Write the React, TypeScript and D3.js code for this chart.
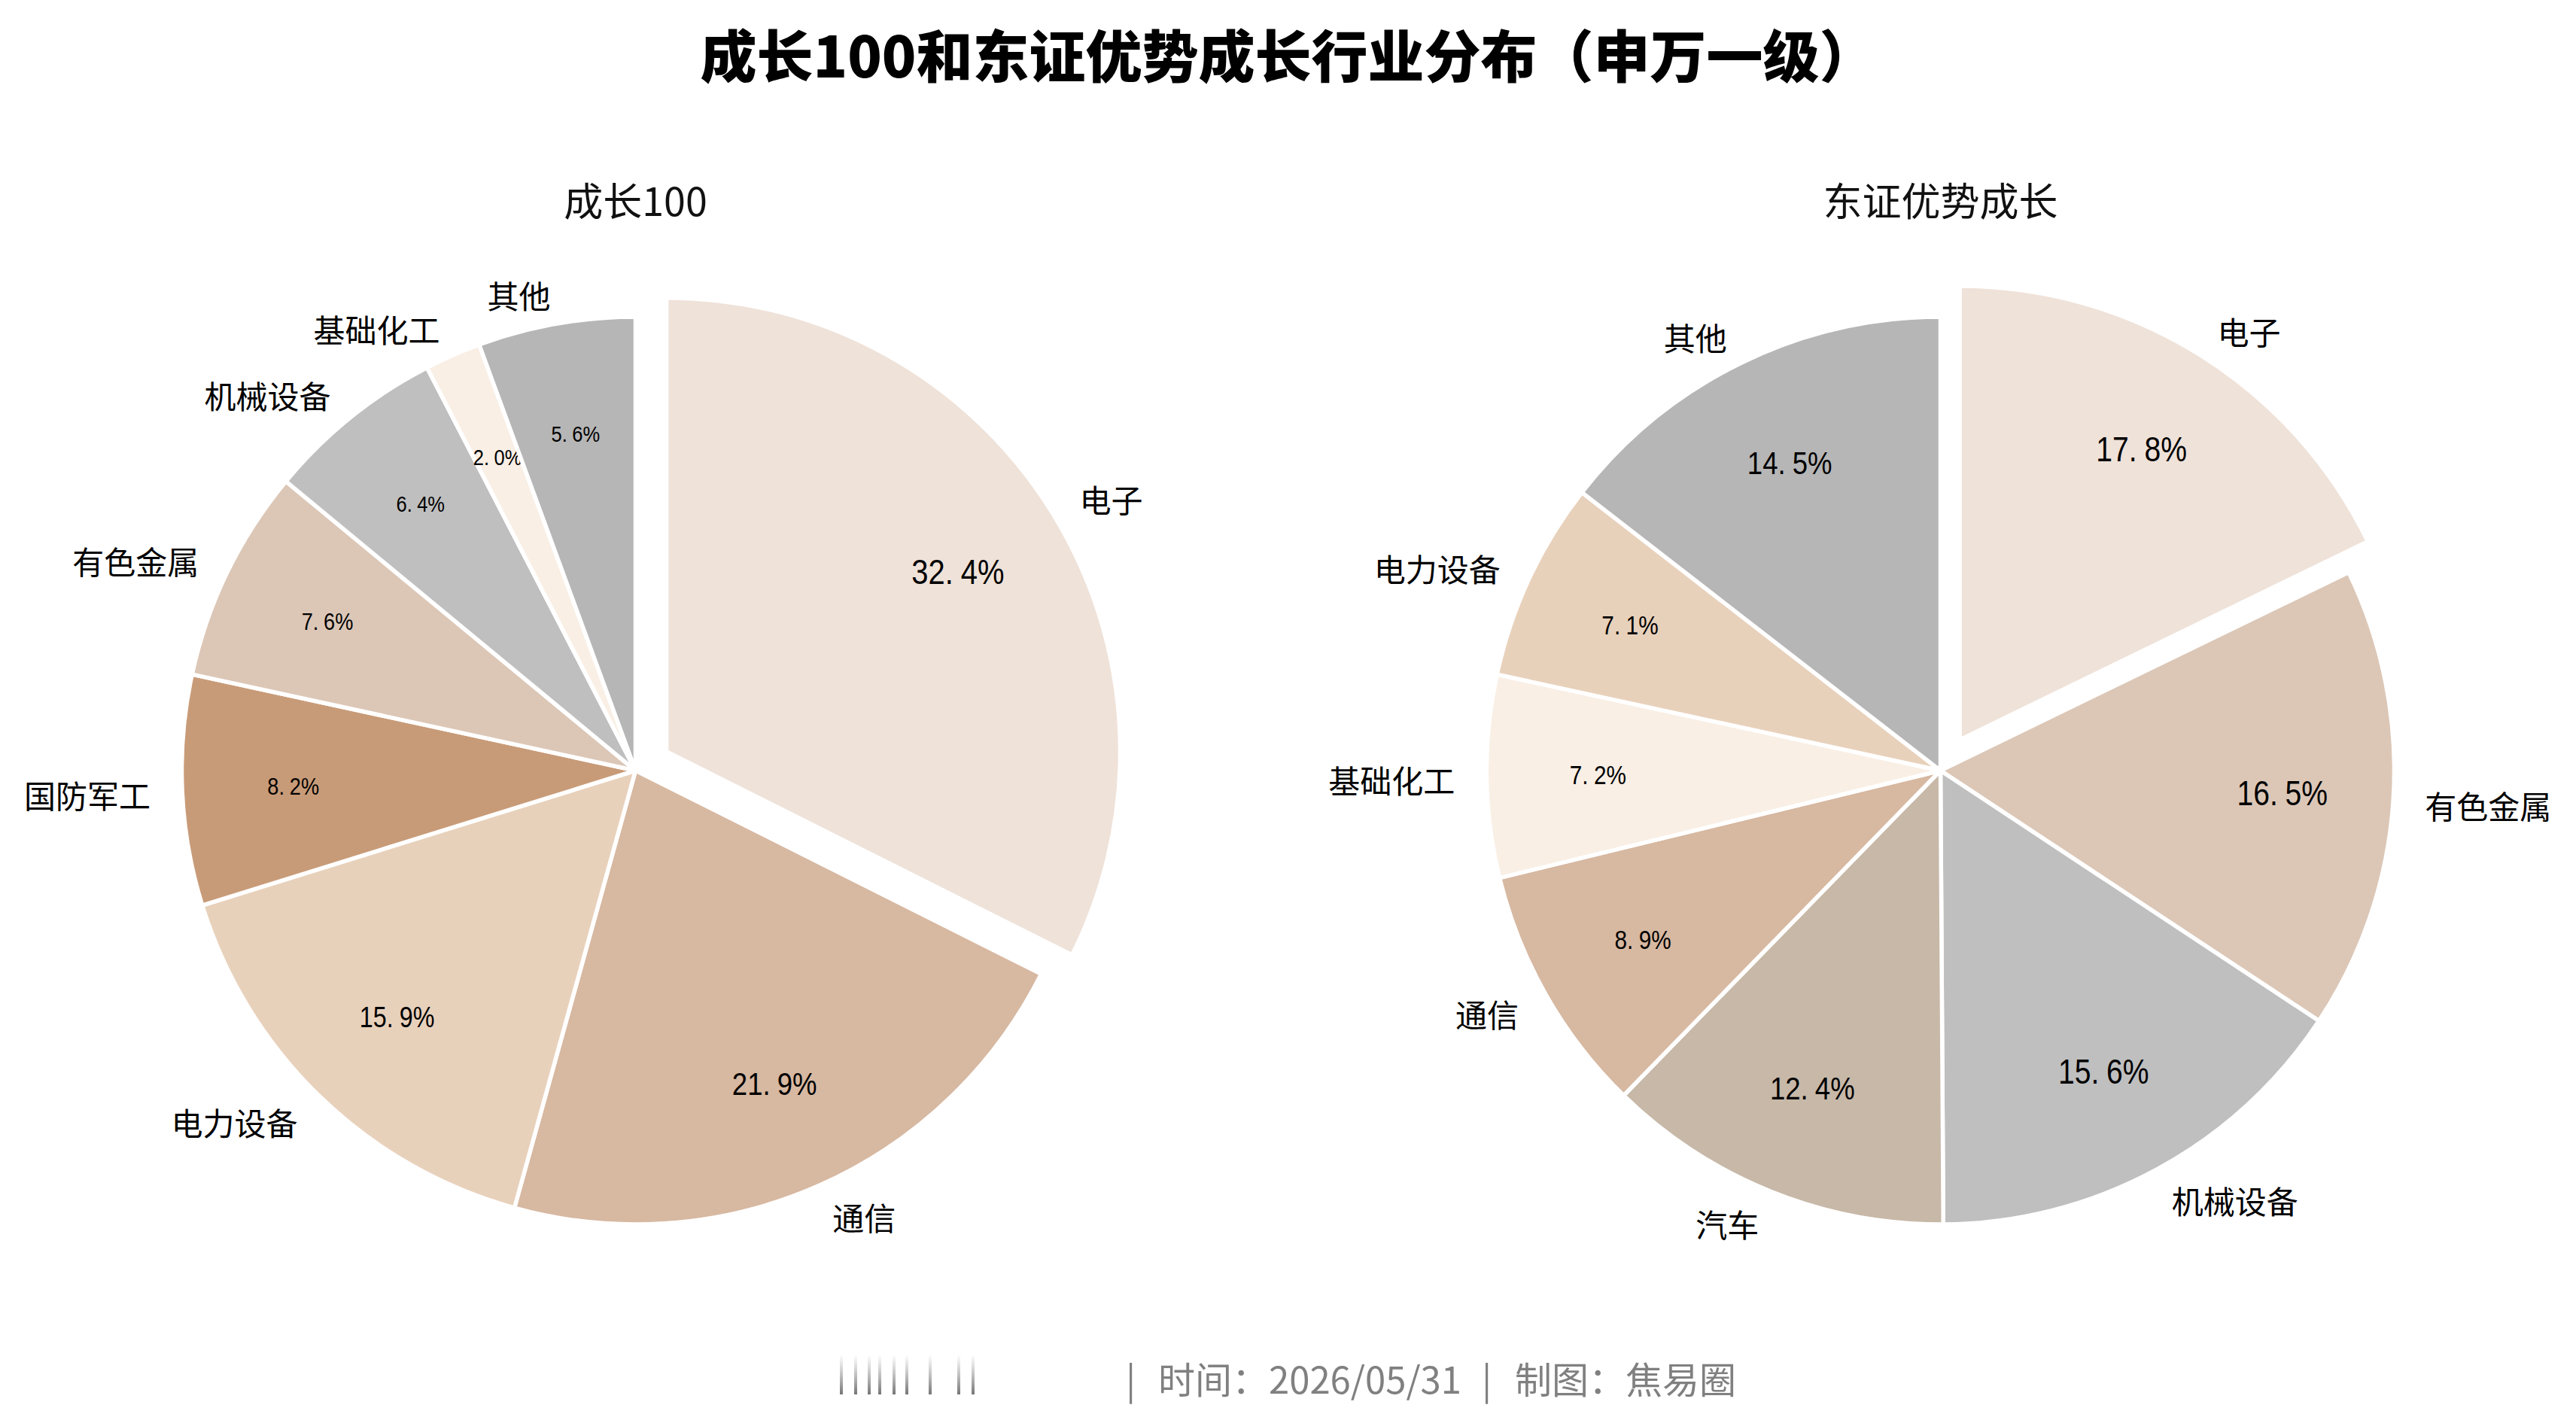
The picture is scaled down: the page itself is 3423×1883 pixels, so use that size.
import { useEffect, useRef } from 'react';
import * as d3 from 'd3';

// 成长100 行业分布（申万一级）
const growthCats = ['电子', '通信', '电力设备', '国防军工', '有色金属', '机械设备', '基础化工', '其他'];
const growthVals = [32.4, 21.9, 15.9, 8.2, 7.6, 6.4, 2.0, 5.6];

// 东证优势成长 行业分布
const dzCats = ['电子', '有色金属', '机械设备', '汽车', '通信', '基础化工', '电力设备', '其他'];
const dzVals = [17.8, 16.5, 15.6, 12.4, 8.9, 7.2, 7.1, 14.5];

const titles = ['成长100', '东证优势成长'];
const footerParts = ['|', '时间：2026/05/31', '|', '制图：焦易圈'];

const industryColor: Record<string, string> = {
  电子: '#EFE2D9',
  通信: '#D7B8A1',
  电力设备: '#E8D1BB',
  国防军工: '#C89B78',
  有色金属: '#DCC7B7',
  机械设备: '#BFBFBF',
  基础化工: '#F9EFE5',
  其他: '#B6B6B6',
  汽车: '#C7B8A8',
};

const W = 3423;
const H = 1883;
const CJK = '"Noto Sans CJK SC", "Noto Sans", sans-serif';
const NUM = '"Liberation Sans", Arial, sans-serif';

export default function App() {
  const svgRef = useRef<SVGSVGElement | null>(null);

  useEffect(() => {
    const svg = d3.select(svgRef.current);
    svg.selectAll('*').remove();
    svg.attr('width', W).attr('height', H);
    svg.append('rect').attr('width', W).attr('height', H).attr('fill', '#fff');

    // main title
    svg.append('text')
      .attr('x', W / 2).attr('y', 70)
      .attr('text-anchor', 'middle').attr('dominant-baseline', 'central')
      .attr('font-family', CJK).attr('font-weight', 900).attr('font-size', 75)
      .attr('fill', '#000')
      .text('成长100和东证优势成长行业分布（申万一级）');

    const r = 603;
    const cy = 1024;
    const explodeD = 0.08 * r;
    const labelD = 1.07 * r;
    const pctD = 0.755 * r;

    const pies = [
      { cats: growthCats, vals: growthVals, cx: W / 2 - 867,
        pctSize: (v: number) => (v >= 30 ? 47 : v >= 20 ? 43 : v >= 10 ? 38 : v >= 7 ? 32 : 30) },
      { cats: dzCats, vals: dzVals, cx: W / 2 + 867,
        pctSize: (v: number) => (v >= 15 ? 46 : v >= 10 ? 43 : 35) },
    ];

    const pie = d3.pie<number>().sort(null).value(d => d).startAngle(0).endAngle(Math.PI * 2);
    const arc = d3.arc<d3.PieArcDatum<number>>().innerRadius(0).outerRadius(r);

    pies.forEach((p, pi) => {
      const g = svg.append('g').attr('transform', `translate(${p.cx},${cy})`);

      svg.append('text')
        .attr('x', p.cx).attr('y', 264)
        .attr('text-anchor', 'middle').attr('dominant-baseline', 'central')
        .attr('font-family', CJK).attr('font-size', 52).attr('fill', '#111')
        .text(titles[pi]);

      const arcs = pie(p.vals);
      arcs.forEach((a, i) => {
        const mid = (a.startAngle + a.endAngle) / 2;
        const ux = Math.sin(mid);
        const uy = -Math.cos(mid);
        const off = i === 0 ? explodeD : 0;
        const ox = ux * off;
        const oy = uy * off;
        const cat = p.cats[i];

        g.append('path')
          .attr('d', arc(a) as string)
          .attr('transform', `translate(${ox},${oy})`)
          .attr('fill', industryColor[cat])
          .attr('stroke', '#fff').attr('stroke-width', 5.5)
          .attr('stroke-linejoin', 'round');

        // category label
        g.append('text')
          .attr('x', ox + ux * labelD).attr('y', oy + uy * labelD)
          .attr('dy', 3)
          .attr('text-anchor', ux > 0 ? 'start' : 'end')
          .attr('dominant-baseline', 'central')
          .attr('font-family', CJK).attr('font-size', 42).attr('fill', '#000')
          .text(cat);

        // percentage (narrow numerals, gap after the decimal point)
        const fs = p.pctSize(p.vals[i]);
        const [ip, dp] = p.vals[i].toFixed(1).split('.');
        const t = g.append('text')
          .attr('transform', `translate(${ox + ux * pctD},${oy + uy * pctD}) scale(0.85,1)`)
          .attr('text-anchor', 'middle').attr('dominant-baseline', 'central')
          .attr('font-family', NUM).attr('font-size', fs).attr('fill', '#000');
        t.append('tspan').text(ip + '.');
        t.append('tspan').attr('dx', fs * 0.25).text(dp + '%');
      });
    });

    // footer: blurred mark + source line
    const defs = svg.append('defs');
    const grad = defs.append('linearGradient').attr('id', 'blurbar')
      .attr('x1', 0).attr('y1', 0).attr('x2', 0).attr('y2', 1);
    grad.append('stop').attr('offset', '0%').attr('stop-color', '#888').attr('stop-opacity', 0);
    grad.append('stop').attr('offset', '100%').attr('stop-color', '#666').attr('stop-opacity', 0.9);
    const barXs = [1118, 1137, 1155, 1169, 1188, 1205, 1236, 1274, 1293];
    svg.selectAll('.blurbar').data(barXs).join('rect').attr('class', 'blurbar')
      .attr('x', d => d - 2).attr('y', 1800).attr('width', 4).attr('height', 53)
      .attr('fill', 'url(#blurbar)');

    const footerX = [1496, 1539, 1969, 2013];
    const ft = svg.append('text')
      .attr('y', 1830)
      .attr('dominant-baseline', 'central')
      .attr('font-family', CJK).attr('font-size', 49).attr('fill', '#808080');
    footerParts.forEach((s, i) => {
      ft.append('tspan').attr('x', footerX[i]).text(s);
    });
  }, []);

  return (
    <div style={{ position: 'absolute', left: 0, top: 0, width: W, height: H, background: '#fff' }}>
      <svg ref={svgRef} style={{ display: 'block' }} />
    </div>
  );
}
